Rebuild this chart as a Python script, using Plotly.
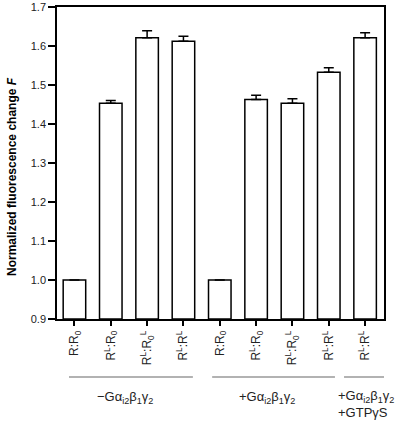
import plotly.graph_objects as go

categories = ["R:R<sub>0</sub>", "R<sup>L</sup>:R<sub>0</sub>", "R<sup>L</sup>:R<sub>0</sub><sup>L</sup>", "R<sup>L</sup>:R<sup>L</sup>",
              "R:R<sub>0</sub>", "R<sup>L</sup>:R<sub>0</sub>", "R<sup>L</sup>:R<sub>0</sub><sup>L</sup>", "R<sup>L</sup>:R<sup>L</sup>",
              "R<sup>L</sup>:R<sup>L</sup>"]
values = [1.0, 1.453, 1.621, 1.612, 1.0, 1.463, 1.453, 1.533, 1.621]
errors = [0.0, 0.007, 0.018, 0.013, 0.0, 0.011, 0.012, 0.011, 0.013]
y_ticks = [0.9, 1.0, 1.1, 1.2, 1.3, 1.4, 1.5, 1.6, 1.7]

FONT = "Liberation Sans, Arial, sans-serif"
xs = list(range(len(values)))

fig = go.Figure()
fig.add_trace(go.Bar(
    x=xs, y=[v - 0.9 for v in values], base=0.9,
    width=0.62,
    marker=dict(color="white", line=dict(color="black", width=1.5)),
    error_y=dict(type="data", symmetric=False, array=errors,
                 arrayminus=[0] * len(errors), color="black",
                 thickness=1.5, width=5),
    showlegend=False,
))

fig.update_layout(
    width=398, height=425,
    margin=dict(l=57, r=14, t=7, b=106),
    paper_bgcolor="white", plot_bgcolor="white",
    font=dict(family=FONT, size=11, color="#222"),
    xaxis=dict(range=[-0.48, 8.52], tickvals=xs, ticktext=categories,
               tickangle=-90, ticks="outside", ticklen=5, tickwidth=1.5,
               tickcolor="black", showline=True, linecolor="black",
               linewidth=1.5, mirror=True, showgrid=False, zeroline=False,
               automargin=False,
               tickfont=dict(size=12, color="#222")),
    yaxis=dict(range=[0.9, 1.7], tickvals=y_ticks,
               ticktext=[f"{t:.1f}" for t in y_ticks],
               ticks="outside", ticklen=7, tickwidth=1.5, tickcolor="black",
               showline=True, linecolor="black", linewidth=1.5, mirror=True,
               showgrid=False, zeroline=False, automargin=False,
               tickfont=dict(size=11, color="#222")),
)

fig.add_annotation(
    text="<b>Normalized fluorescence change <i>F</i></b>",
    xref="paper", yref="paper", x=(12 - 57) / 327, y=(319 - 177) / 312,
    textangle=-90, showarrow=False, font=dict(size=12, color="black"),
    xanchor="center", yanchor="middle",
)

# group lines and labels
groups = [(-0.15, 3.26), (3.79, 7.17), (7.42, 8.55)]
line_y = (319 - 377) / 312
for x0, x1 in groups:
    fig.add_shape(type="line", xref="x", yref="paper", x0=x0, x1=x1,
                  y0=line_y, y1=line_y, line=dict(color="#999", width=1.5))

lab_y = (319 - 397) / 312
fig.add_annotation(text="\u2212G\u03b1<sub>i2</sub>\u03b2<sub>1</sub>\u03b3<sub>2</sub>",
                   xref="x", yref="paper", x=1.39, y=lab_y, showarrow=False,
                   xanchor="center", yanchor="middle",
                   font=dict(size=13, color="#222"))
fig.add_annotation(text="+G\u03b1<sub>i2</sub>\u03b2<sub>1</sub>\u03b3<sub>2</sub>",
                   xref="x", yref="paper", x=5.31, y=lab_y, showarrow=False,
                   xanchor="center", yanchor="middle",
                   font=dict(size=13, color="#222"))
fig.add_annotation(text="+G\u03b1<sub>i2</sub>\u03b2<sub>1</sub>\u03b3<sub>2</sub><br>+GTP\u03b3S",
                   xref="x", yref="paper", x=7.20, y=(319 - 404) / 312,
                   showarrow=False, xanchor="left", yanchor="middle",
                   align="left", font=dict(size=13, color="#222"))

fig.write_html("out.html", config={"displayModeBar": False},
               post_script="document.body.style.margin='0';document.body.style.overflow='hidden';")
